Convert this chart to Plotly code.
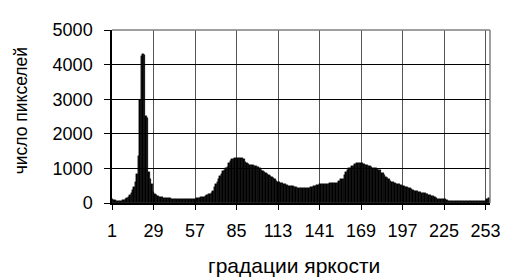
import plotly.graph_objects as go

levels = list(range(1, 257))
counts = [
    130, 95, 75, 65, 62, 62, 65, 75, 90, 110,
    140, 175, 230, 300, 370, 450, 600, 850, 1370, 2980,
    4250, 4300, 4280, 2520, 2450, 910, 680, 540, 310, 260,
    220, 195, 175, 165, 160, 155, 150, 145, 140, 135,
    130, 125, 120, 120, 120, 120, 120, 120, 120, 120,
    120, 120, 120, 120, 120, 125, 130, 135, 140, 150,
    160, 170, 180, 200, 230, 250, 270, 300, 360, 450,
    540, 620, 700, 780, 850, 920, 960, 1000, 1050, 1170,
    1200, 1260, 1270, 1290, 1300, 1300, 1300, 1300, 1290, 1280,
    1190, 1160, 1140, 1110, 1100, 1090, 1080, 1060, 1050, 1040,
    1000, 960, 920, 890, 860, 830, 800, 770, 740, 720,
    680, 640, 620, 600, 590, 580, 560, 545, 520, 500,
    500, 490, 480, 470, 450, 440, 430, 425, 420, 420,
    425, 425, 430, 440, 460, 470, 490, 500, 520, 530,
    540, 545, 545, 545, 545, 545, 545, 575, 575, 575,
    575, 575, 575, 650, 680, 690, 700, 800, 900, 950,
    1000, 1020, 1060, 1080, 1120, 1160, 1170, 1170, 1160, 1150,
    1120, 1100, 1095, 1080, 1060, 1040, 1020, 1000, 1000, 990,
    960, 940, 880, 860, 820, 760, 720, 690, 650, 620,
    600, 580, 560, 550, 540, 530, 500, 480, 470, 460,
    440, 420, 400, 380, 360, 350, 340, 320, 310, 300,
    290, 280, 260, 250, 240, 220, 200, 190, 170, 150,
    130, 125, 120, 120, 115, 110, 90, 65, 65, 65,
    65, 65, 65, 65, 65, 65, 65, 65, 65, 65,
    65, 65, 65, 65, 65, 65, 65, 65, 65, 65,
    65, 65, 65, 130, 140, 140,
]
assert len(counts) == 256

x_ticks = [1, 29, 57, 85, 113, 141, 169, 197, 225, 253]
y_ticks = [0, 1000, 2000, 3000, 4000, 5000]
x_title = "градации яркости"
y_title = "число пикселей"

FONT = "Liberation Sans, Arial, sans-serif"

fig = go.Figure(go.Bar(
    x=levels, y=counts, width=1,
    marker=dict(color="black", line=dict(width=0.4, color="black")),
))

# the page body adds an 8px offset, so the figure is 8px smaller than the window
fig.update_layout(
    width=504, height=269,
    margin=dict(l=104, r=14, t=14, b=74),
    paper_bgcolor="white", plot_bgcolor="white",
    bargap=0, showlegend=False,
    font=dict(family=FONT, size=18, color="black"),
    shapes=[
        dict(type="line", xref="paper", yref="paper", x0=0, x1=1, y0=1, y1=1,
             line=dict(color="#808080", width=1.5)),
        dict(type="line", xref="paper", yref="paper", x0=1, x1=1, y0=0, y1=1,
             line=dict(color="#808080", width=1.5)),
    ],
    annotations=[
        dict(text=x_title, xref="paper", yref="paper", x=0.482, y=0,
             xanchor="center", yanchor="top", yshift=-49, showarrow=False,
             font=dict(family=FONT, size=21, color="black")),
        dict(text=y_title, xref="paper", yref="paper", x=0, y=0.53,
             xanchor="center", yanchor="middle", xshift=-91, textangle=-90,
             showarrow=False, font=dict(family=FONT, size=17.5, color="black")),
    ],
)

fig.update_xaxes(
    range=[1, 256], tickvals=x_ticks, ticktext=[str(v) for v in x_ticks],
    showgrid=True, gridcolor="#555555", gridwidth=1,
    showline=True, linecolor="black", linewidth=1.5,
    ticks="outside", ticklen=5, tickcolor="black",
    ticklabelstandoff=6, zeroline=False,
    tickfont=dict(family=FONT, size=18, color="black"),
)
fig.update_yaxes(
    range=[0, 5000], tickvals=y_ticks, ticktext=[str(v) for v in y_ticks],
    showgrid=True, gridcolor="black", gridwidth=1,
    showline=True, linecolor="black", linewidth=1.5,
    ticks="outside", ticklen=6, tickcolor="black",
    ticklabelstandoff=8, zeroline=False,
    tickfont=dict(family=FONT, size=18, color="black"),
)

fig.write_html("out.html")
